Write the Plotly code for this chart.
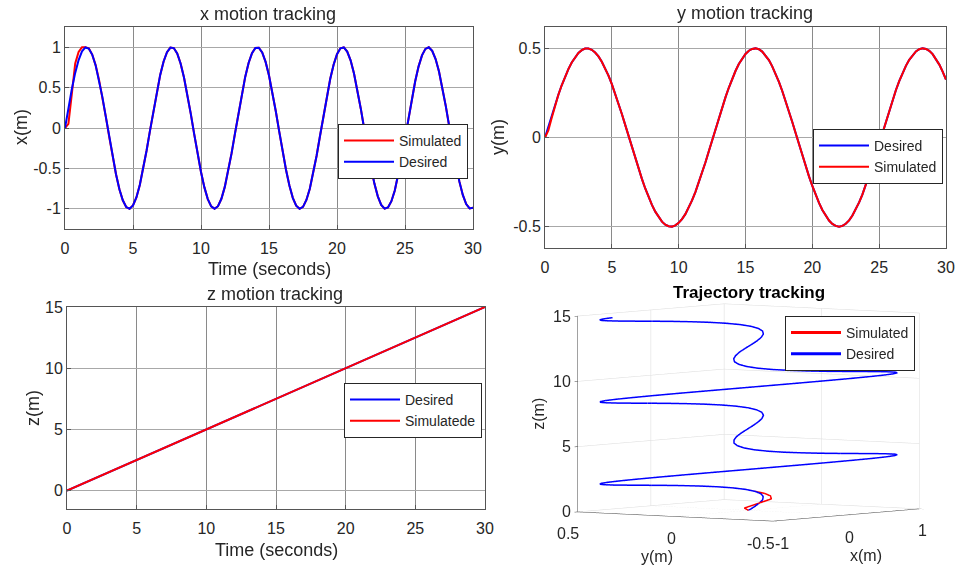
import plotly.graph_objects as go

# ---------------- data ----------------
t = [0, 0.25, 0.5, 0.75, 1, 1.25, 1.5, 1.75, 2, 2.25, 2.5, 2.75, 3, 3.25, 3.5, 3.75,
     4, 4.25, 4.5, 4.75, 5, 5.25, 5.5, 5.75, 6, 6.25, 6.5, 6.75, 7, 7.25, 7.5, 7.75,
     8, 8.25, 8.5, 8.75, 9, 9.25, 9.5, 9.75, 10, 10.25, 10.5, 10.75, 11, 11.25, 11.5, 11.75,
     12, 12.25, 12.5, 12.75, 13, 13.25, 13.5, 13.75, 14, 14.25, 14.5, 14.75, 15, 15.25, 15.5, 15.75,
     16, 16.25, 16.5, 16.75, 17, 17.25, 17.5, 17.75, 18, 18.25, 18.5, 18.75, 19, 19.25, 19.5, 19.75,
     20, 20.25, 20.5, 20.75, 21, 21.25, 21.5, 21.75, 22, 22.25, 22.5, 22.75, 23, 23.25, 23.5, 23.75,
     24, 24.25, 24.5, 24.75, 25, 25.25, 25.5, 25.75, 26, 26.25, 26.5, 26.75, 27, 27.25, 27.5, 27.75,
     28, 28.25, 28.5, 28.75, 29, 29.25, 29.5, 29.75, 30]

x_desired = [0, 0.247, 0.479, 0.682, 0.841, 0.949, 0.997, 0.984, 0.909, 0.778, 0.598, 0.382,
             0.141, -0.108, -0.351, -0.572, -0.757, -0.895, -0.978, -0.999, -0.959, -0.859,
             -0.706, -0.508, -0.279, -0.033, 0.215, 0.450, 0.657, 0.823, 0.938, 0.995, 0.989,
             0.922, 0.798, 0.625, 0.412, 0.174, -0.075, -0.320, -0.544, -0.735, -0.880, -0.970,
             -1.000, -0.968, -0.876, -0.729, -0.537, -0.311, -0.066, 0.183, 0.420, 0.632, 0.804,
             0.926, 0.991, 0.994, 0.935, 0.818, 0.650, 0.442, 0.207, -0.042, -0.288, -0.516,
             -0.712, -0.864, -0.961, -1.000, -0.976, -0.891, -0.751, -0.564, -0.343, -0.099,
             0.150, 0.390, 0.606, 0.784, 0.913, 0.986, 0.997, 0.946, 0.837, 0.675, 0.472, 0.239,
             -0.009, -0.256, -0.487, -0.688, -0.846, -0.952, -0.998, -0.983, -0.906, -0.773,
             -0.591, -0.374, -0.132, 0.117, 0.359, 0.579, 0.763, 0.899, 0.979, 0.999, 0.956,
             0.854, 0.699, 0.501, 0.271, 0.024, -0.224, -0.458, -0.664, -0.828, -0.941, -0.995,
             -0.988]

y_desired = [0, 0.062, 0.124, 0.183, 0.240, 0.293, 0.341, 0.384, 0.421, 0.451, 0.474, 0.490,
             0.499, 0.499, 0.492, 0.477, 0.455, 0.425, 0.389, 0.347, 0.299, 0.247, 0.191, 0.132,
             0.071, 0.008, -0.054, -0.116, -0.175, -0.232, -0.286, -0.335, -0.378, -0.416,
             -0.448, -0.472, -0.489, -0.498, -0.500, -0.493, -0.479, -0.458, -0.430, -0.394,
             -0.353, -0.306, -0.254, -0.199, -0.140, -0.079, -0.017, 0.046, 0.108, 0.168, 0.225,
             0.279, 0.329, 0.373, 0.412, 0.444, 0.469, 0.487, 0.497, 0.500, 0.495, 0.482, 0.461,
             0.434, 0.399, 0.359, 0.312, 0.261, 0.206, 0.148, 0.087, 0.025, -0.038, -0.100,
             -0.160, -0.218, -0.272, -0.322, -0.367, -0.407, -0.440, -0.466, -0.485, -0.496,
             -0.500, -0.496, -0.484, -0.465, -0.438, -0.404, -0.364, -0.319, -0.268, -0.214,
             -0.156, -0.095, -0.033, 0.029, 0.091, 0.152, 0.210, 0.265, 0.316, 0.362, 0.402,
             0.436, 0.463, 0.483, 0.495, 0.500, 0.497, 0.486, 0.468, 0.442, 0.409, 0.370, 0.325]

z_desired = [0, 0.125, 0.25, 0.375, 0.5, 0.625, 0.75, 0.875, 1, 1.125, 1.25, 1.375, 1.5, 1.625,
             1.75, 1.875, 2, 2.125, 2.25, 2.375, 2.5, 2.625, 2.75, 2.875, 3, 3.125, 3.25, 3.375,
             3.5, 3.625, 3.75, 3.875, 4, 4.125, 4.25, 4.375, 4.5, 4.625, 4.75, 4.875, 5, 5.125,
             5.25, 5.375, 5.5, 5.625, 5.75, 5.875, 6, 6.125, 6.25, 6.375, 6.5, 6.625, 6.75, 6.875,
             7, 7.125, 7.25, 7.375, 7.5, 7.625, 7.75, 7.875, 8, 8.125, 8.25, 8.375, 8.5, 8.625,
             8.75, 8.875, 9, 9.125, 9.25, 9.375, 9.5, 9.625, 9.75, 9.875, 10, 10.125, 10.25,
             10.375, 10.5, 10.625, 10.75, 10.875, 11, 11.125, 11.25, 11.375, 11.5, 11.625, 11.75,
             11.875, 12, 12.125, 12.25, 12.375, 12.5, 12.625, 12.75, 12.875, 13, 13.125, 13.25,
             13.375, 13.5, 13.625, 13.75, 13.875, 14, 14.125, 14.25, 14.375, 14.5, 14.625, 14.75,
             14.875, 15]

# simulated response: start-up transient, then it follows the reference
x_sim_start = [0, 0.05, 0.42, 0.80, 0.94, 1.0, 1.0, 0.985]
y_sim_start = [0, 0.04, 0.11]
x_simulated = x_sim_start + x_desired[len(x_sim_start):]
y_simulated = y_sim_start + y_desired[len(y_sim_start):]
z_simulated = list(z_desired)

time_ticks = [0, 5, 10, 15, 20, 25, 30]
x_ticks = [-1, -0.5, 0, 0.5, 1]
y_ticks = [-0.5, 0, 0.5]
z_ticks = [0, 5, 10, 15]
x3d_ticks = [-1, 0, 1]

# ---------------- figure ----------------
W, H = 955, 567
FONT = "Liberation Sans, Arial, sans-serif"
TXT = "#262626"
RED = "#ff0000"
BLUE = "#0000ff"


def px(v):
    return v / W


def py(v):
    return 1 - v / H


fig = go.Figure()

# subplot 1: x
fig.add_trace(go.Scatter(x=t, y=x_simulated, mode="lines", name="Simulated",
                         line=dict(color=RED, width=2), xaxis="x", yaxis="y", legend="legend"))
fig.add_trace(go.Scatter(x=t, y=x_desired, mode="lines", name="Desired",
                         line=dict(color=BLUE, width=2), xaxis="x", yaxis="y", legend="legend"))
# subplot 2: y
fig.add_trace(go.Scatter(x=t, y=y_desired, mode="lines", name="Desired",
                         line=dict(color=BLUE, width=2), xaxis="x2", yaxis="y2", legend="legend2"))
fig.add_trace(go.Scatter(x=t, y=y_simulated, mode="lines", name="Simulated",
                         line=dict(color=RED, width=2), xaxis="x2", yaxis="y2", legend="legend2"))
# subplot 3: z
fig.add_trace(go.Scatter(x=t, y=z_desired, mode="lines", name="Desired",
                         line=dict(color=BLUE, width=2), xaxis="x3", yaxis="y3", legend="legend3"))
fig.add_trace(go.Scatter(x=t, y=z_simulated, mode="lines", name="Simulatede",
                         line=dict(color=RED, width=2), xaxis="x3", yaxis="y3", legend="legend3"))
# subplot 4: 3-D trajectory
fig.add_trace(go.Scatter3d(x=x_simulated, y=y_simulated, z=z_simulated, mode="lines",
                           name="Simulated", line=dict(color=RED, width=3), scene="scene",
                           legend="legend4"))
fig.add_trace(go.Scatter3d(x=x_desired, y=y_desired, z=z_desired, mode="lines",
                           name="Desired", line=dict(color=BLUE, width=3), scene="scene",
                           legend="legend4"))


def xax(domain, anchor):
    return dict(domain=domain, anchor=anchor, range=[0, 30], tickvals=time_ticks,
                showgrid=True, gridcolor="#8a8a8a", gridwidth=1, zeroline=False,
                showline=True, linecolor="#555555", linewidth=1, mirror=True,
                ticks="inside", ticklen=4, tickcolor="#555555", automargin=False,
                ticklabelstandoff=5,
                tickfont=dict(family=FONT, size=16, color=TXT))


def yax(domain, anchor, rng, vals, text):
    return dict(domain=domain, anchor=anchor, range=rng, tickvals=vals, ticktext=text,
                showgrid=True, gridcolor="#a8a8a8", gridwidth=1, zeroline=False,
                showline=True, linecolor="#555555", linewidth=1, mirror=True,
                ticks="inside", ticklen=4, tickcolor="#555555", automargin=False,
                tickfont=dict(family=FONT, size=16, color=TXT))


ax3d_common = dict(showbackground=False, gridcolor="#dcdcdc", gridwidth=1,
                   showline=True, linecolor="#444444", linewidth=1,
                   ticks="outside", tickcolor="#444444", ticklen=5,
                   zeroline=False, showspikes=False, showticklabels=False,
                   title=dict(text=""))

# 3-D tick labels and axis titles, placed at their data positions
F3 = dict(family=FONT, size=16, color=TXT)
y3d_shift = {0.5: -10, 0: -4, -0.5: -12}
x3d_shift = {-1: 9, 0: 3, 1: 3}
scene_ann = []
for v in y_ticks:
    scene_ann.append(dict(x=-1, y=v, z=0, text=f"{v:g}", xshift=y3d_shift[v], yshift=-22,
                          xanchor="center", yanchor="middle"))
for v in x3d_ticks:
    scene_ann.append(dict(x=v, y=-0.5, z=0, text=f"{v:g}", xshift=x3d_shift[v], yshift=-22,
                          xanchor="center", yanchor="middle"))
for v in z_ticks:
    scene_ann.append(dict(x=-1, y=0.5, z=v, text=f"{v:g}", xshift=-5, yshift=0,
                          xanchor="right", yanchor="middle"))
scene_ann.append(dict(x=-1, y=0, z=0, text="y(m)", xshift=-18, yshift=-40,
                      xanchor="center", yanchor="middle"))
scene_ann.append(dict(x=0, y=-0.5, z=0, text="x(m)", xshift=20, yshift=-40,
                      xanchor="center", yanchor="middle"))
scene_ann.append(dict(x=-1, y=0.5, z=7.5, text="z(m)", xshift=-40, yshift=0,
                      textangle=-90, xanchor="center", yanchor="middle"))
for a in scene_ann:
    a.update(showarrow=False, font=F3)

r = 3.0
fig.update_layout(
    template="none",
    width=W, height=H, margin=dict(l=0, r=0, t=0, b=0, autoexpand=False),
    paper_bgcolor="white", plot_bgcolor="white",
    font=dict(family=FONT, color=TXT),
    xaxis=xax([px(65), px(473)], "y"),
    yaxis=yax([py(229), py(27)], "x", [-1.25, 1.25], x_ticks, ["-1", "-0.5", "0", "0.5", "1"]),
    xaxis2=xax([px(545), px(946)], "y2"),
    yaxis2=yax([py(248), py(27)], "x2", [-0.62, 0.62], y_ticks, ["-0.5", "0", "0.5"]),
    xaxis3=xax([px(67), px(485)], "y3"),
    yaxis3=yax([py(509), py(307)], "x3", [-1.5, 15], z_ticks, ["0", "5", "10", "15"]),
    scene=dict(
        domain=dict(x=[0.5676, 1.0], y=[0.0, 0.545]),
        bgcolor="rgba(0,0,0,0)",
        xaxis=dict(range=[-1, 1], tickvals=x3d_ticks, **ax3d_common),
        yaxis=dict(range=[-0.5, 0.5], tickvals=y_ticks, **ax3d_common),
        zaxis=dict(range=[0, 15], tickvals=z_ticks, **ax3d_common),
        aspectmode="manual", aspectratio=dict(x=1.58, y=1.58, z=1.27),
        camera=dict(eye=dict(x=-0.8 * r, y=-0.6 * r, z=0.063 * r),
                    up=dict(x=0, y=0, z=1), center=dict(x=0, y=0, z=0),
                    projection=dict(type="orthographic")),
        annotations=scene_ann,
    ),
)

leg_common = dict(bgcolor="white", bordercolor="#262626", borderwidth=1,
                  font=dict(family=FONT, size=14, color=TXT),
                  xanchor="right", yanchor="top", xref="paper", yref="paper",
                  itemwidth=50, tracegroupgap=0)
fig.update_layout(
    legend=dict(x=px(468), y=py(124), **leg_common),
    legend2=dict(x=px(943), y=py(129), **leg_common),
    legend3=dict(x=px(482), y=py(383), **leg_common),
    legend4=dict(x=px(915), y=py(316), **leg_common),
)

ann = [
    ("x motion tracking", 268, 14, 18, 0, False),
    ("Time (seconds)", 269, 269, 18, 0, False),
    ("x(m)", 21, 127, 18, -90, False),
    ("y motion tracking", 745, 13, 18, 0, False),
    ("y(m)", 498, 137, 18, -90, False),
    ("z motion tracking", 275, 294, 18, 0, False),
    ("Time (seconds)", 276, 550, 18, 0, False),
    ("z(m)", 33, 408, 18, -90, False),
    ("Trajectory tracking", 749, 292, 17, 0, True),
]
for text, xx, yy, size, ang, bold in ann:
    fig.add_annotation(text=f"<b>{text}</b>" if bold else text, x=px(xx), y=py(yy),
                       xref="paper", yref="paper", showarrow=False, textangle=ang,
                       xanchor="center", yanchor="middle",
                       font=dict(family=FONT, size=size, color="black" if bold else TXT))

fig.write_html("out.html", config={"displayModeBar": False},
               post_script="document.body.style.margin='0';document.body.style.padding='0';")
